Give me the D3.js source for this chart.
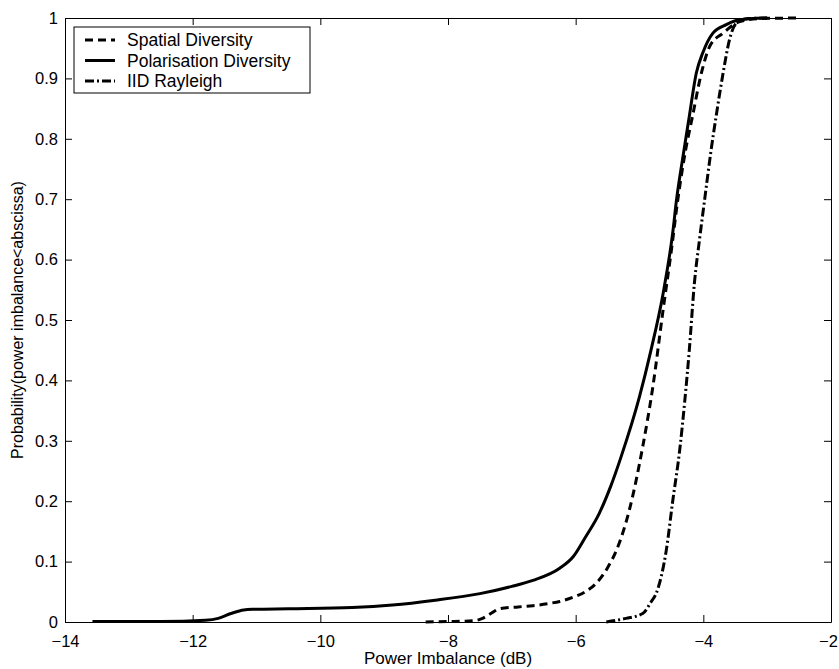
<!DOCTYPE html>
<html lang="en"><head><meta charset="UTF-8">
<title>Power imbalance CDF</title>
<script src="https://d3js.org/d3.v7.min.js"></script>
<style type="text/css">
  body { margin: 0; background: #fff; }
  text { font-family: "Liberation Sans", Arial, sans-serif; fill: #000; }
</style>
</head>
<body>
<script type="text/javascript">

// series values: [power imbalance dB, probability]
var spatial = [[-8.35,0],[-7.9,0.001],[-7.6,0.002],[-7.46,0.006],[-7.3,0.016],[-7.19,0.022],
  [-6.9,0.025],[-6.67,0.027],[-6.4,0.031],[-6.25,0.034],[-6.04,0.041],[-5.85,0.05],[-5.68,0.064],
  [-5.5,0.09],[-5.36,0.119],[-5.16,0.185],[-4.95,0.29],[-4.79,0.39],[-4.63,0.517],[-4.5,0.616],
  [-4.4,0.699],[-4.28,0.78],[-4.17,0.837],[-4.03,0.909],[-3.9,0.953],[-3.69,0.975],[-3.43,0.994],
  [-3.1,0.999],[-2.5,1]];
var polar = [[-13.57,0.001],[-12.5,0.001],[-11.8,0.003],[-11.6,0.006],[-11.4,0.014],[-11.2,0.02],
  [-11.06,0.021],[-10.5,0.022],[-9.5,0.024],[-8.87,0.028],[-8.2,0.036],[-7.5,0.047],[-7.0,0.059],
  [-6.67,0.069],[-6.25,0.089],[-6.04,0.108],[-5.85,0.14],[-5.63,0.18],[-5.45,0.225],[-5.29,0.273],
  [-5.0,0.373],[-4.82,0.45],[-4.63,0.544],[-4.48,0.644],[-4.42,0.699],[-4.32,0.77],[-4.22,0.837],
  [-4.11,0.909],[-4.01,0.942],[-3.85,0.975],[-3.64,0.989],[-3.43,0.997],[-3.0,1]];
var iid = [[-5.52,0],[-5.35,0.003],[-5.21,0.006],[-4.95,0.014],[-4.82,0.033],[-4.74,0.047],
  [-4.66,0.075],[-4.58,0.119],[-4.48,0.2],[-4.37,0.285],[-4.29,0.367],[-4.22,0.45],[-4.14,0.561],
  [-4.06,0.633],[-3.98,0.699],[-3.88,0.78],[-3.8,0.837],[-3.69,0.909],[-3.59,0.964],[-3.48,0.992],
  [-3.3,0.999],[-3.0,1]];

var seriesNames = ["Spatial Diversity", "Polarisation Diversity", "IID Rayleigh"];
var xTicks = [-14, -12, -10, -8, -6, -4, -2];
var yTicks = [0, 0.1, 0.2, 0.3, 0.4, 0.5, 0.6, 0.7, 0.8, 0.9, 1];

//Width and height
var w = 839;
var h = 669;
var margin = {top: 18, right: 8, bottom: 47, left: 65};

var svg = d3.select("body")
  .append("svg")
  .attr("width", w)
  .attr("height", h);

var x = d3.scaleLinear().domain([-14, -2]).range([margin.left, w - margin.right]);
var y = d3.scaleLinear().domain([0, 1]).range([h - margin.bottom, margin.top]);

var tickLen = 7;

// axes, ticks pointing inward, mirrored on top and right
var xAxis = svg.append("g")
  .attr("transform", "translate(0," + y(0) + ")")
  .call(d3.axisBottom(x).tickValues(xTicks).tickSizeInner(-tickLen).tickSizeOuter(0).tickPadding(13)
    .tickFormat(d3.format("d")));
svg.append("g")
  .attr("transform", "translate(0," + y(1) + ")")
  .call(d3.axisTop(x).tickValues(xTicks).tickSizeInner(-tickLen).tickSizeOuter(0).tickFormat(""));
svg.append("g")
  .attr("transform", "translate(" + x(-14) + ",0)")
  .call(d3.axisLeft(y).tickValues(yTicks).tickSizeInner(-tickLen).tickSizeOuter(0).tickPadding(7)
    .tickFormat(function(d) { return d === 0 || d === 1 ? d : d3.format(".1f")(d); }));
svg.append("g")
  .attr("transform", "translate(" + x(-2) + ",0)")
  .call(d3.axisRight(y).tickValues(yTicks).tickSizeInner(-tickLen).tickSizeOuter(0).tickFormat(""));

svg.selectAll(".domain").attr("stroke", "#000").attr("stroke-width", 1);
svg.selectAll(".tick line").attr("stroke", "#000");
svg.selectAll(".tick text").style("font-size", "16.5px");
// keep the last label inside the window, as in the original
xAxis.selectAll(".tick text").filter(function(d) { return d === -2; }).attr("dx", -3);

// axis titles
svg.append("text")
  .attr("x", (x(-14) + x(-2)) / 2)
  .attr("y", h - 5)
  .attr("text-anchor", "middle")
  .style("font-size", "17px")
  .text("Power Imbalance (dB)");
svg.append("text")
  .attr("transform", "translate(23," + (y(0) + y(1)) / 2 + ") rotate(-90)")
  .attr("text-anchor", "middle")
  .style("font-size", "16px")
  .text("Probability(power imbalance<abscissa)");

var line = d3.line()
  .x(function(d) { return x(d[0]); })
  .y(function(d) { return y(d[1]); })
  .curve(d3.curveMonotoneX);

var dashes = ["8,5", null, "9,3,2,3"];
var data = [spatial, polar, iid];

svg.selectAll("path.series")
  .data(data)
  .enter()
  .append("path")
  .attr("class", "series")
  .attr("d", line)
  .attr("fill", "none")
  .attr("stroke", "#000")
  .attr("stroke-width", 3)
  .attr("stroke-dasharray", function(d, i) { return dashes[i]; });

// legend
var lg = svg.append("g");
lg.append("rect")
  .attr("x", 74).attr("y", 27)
  .attr("width", 236).attr("height", 66)
  .attr("fill", "#fff").attr("stroke", "#000").attr("stroke-width", 1);

var rows = lg.selectAll("g.row")
  .data(seriesNames)
  .enter()
  .append("g")
  .attr("class", "row")
  .attr("transform", function(d, i) { return "translate(0," + (40 + i * 20.5) + ")"; });
rows.append("line")
  .attr("x1", 85).attr("x2", 115)
  .attr("stroke", "#000").attr("stroke-width", 3)
  .attr("stroke-dasharray", function(d, i) { return dashes[i]; });
rows.append("text")
  .attr("x", 127).attr("dy", "0.35em")
  .style("font-size", "17.5px")
  .text(function(d) { return d; });

</script>
</body></html>
